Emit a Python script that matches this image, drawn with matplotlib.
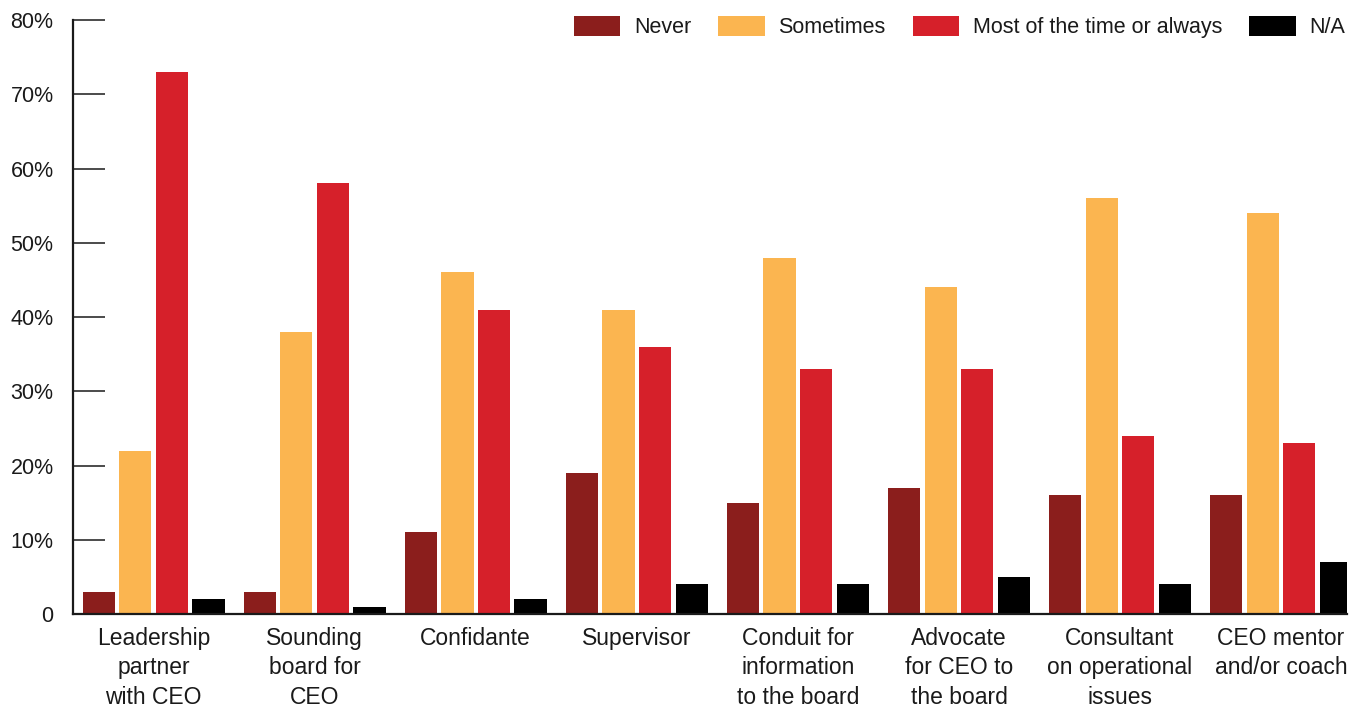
import numpy as np
import matplotlib
matplotlib.use('Agg')
import matplotlib.pyplot as plt

plt.rcParams['font.family'] = ['Liberation Sans Narrow', 'Liberation Sans', 'DejaVu Sans']

# survey categories and response shares (%)
categories = ['Leadership\npartner\nwith CEO', 'Sounding\nboard for\nCEO', 'Confidante',
              'Supervisor', 'Conduit for\ninformation\nto the board',
              'Advocate\nfor CEO to\nthe board', 'Consultant\non operational\nissues',
              'CEO mentor\nand/or coach']
never = [3, 3, 11, 19, 15, 17, 16, 16]
sometimes = [22, 38, 46, 41, 48, 44, 56, 54]
mostly = [73, 58, 41, 36, 33, 33, 24, 23]
not_applicable = [2, 1, 2, 4, 4, 5, 4, 7]

series = [('Never', never, '#8B1E1C'),
          ('Sometimes', sometimes, '#FBB550'),
          ('Most of the time or always', mostly, '#D6202A'),
          ('N/A', not_applicable, '#000000')]

fig = plt.figure(figsize=(13.58, 7.10), dpi=100)
ax = fig.add_axes([0.0538, 0.1352, 0.9382, 0.8366])

x = np.arange(len(categories))
step = 0.227
width = 0.2
for i, (name, vals, col) in enumerate(series):
    ax.bar(x + (i - 1.5) * step, vals, width, color=col, label=name, zorder=2)

ax.set_xlim(-0.5, 7.41)
ax.set_ylim(0, 80)
ax.set_yticks(range(0, 81, 10))
ax.set_yticklabels(['0'] + ['%d%%' % v for v in range(10, 81, 10)])
ax.set_xticks(x)
ax.set_xticklabels(categories, linespacing=1.38)

for side in ['top', 'right']:
    ax.spines[side].set_visible(False)
for side in ['left', 'bottom']:
    ax.spines[side].set_linewidth(1.6)
    ax.spines[side].set_color('#1a1a1a')

ax.tick_params(axis='y', direction='in', length=23, width=1.1, pad=14,
               labelsize=15.5, colors='#1a1a1a')
ax.tick_params(axis='x', length=0, pad=9, labelsize=16.5, colors='#1a1a1a')

fig.legend(loc='upper right', bbox_to_anchor=(1.005, 1.005), ncol=4, frameon=False,
           fontsize=15.5, handlelength=2.15, handleheight=1.05, handletextpad=0.65,
           columnspacing=1.25, labelcolor='#1a1a1a')

fig.savefig('out.png', dpi=100)
